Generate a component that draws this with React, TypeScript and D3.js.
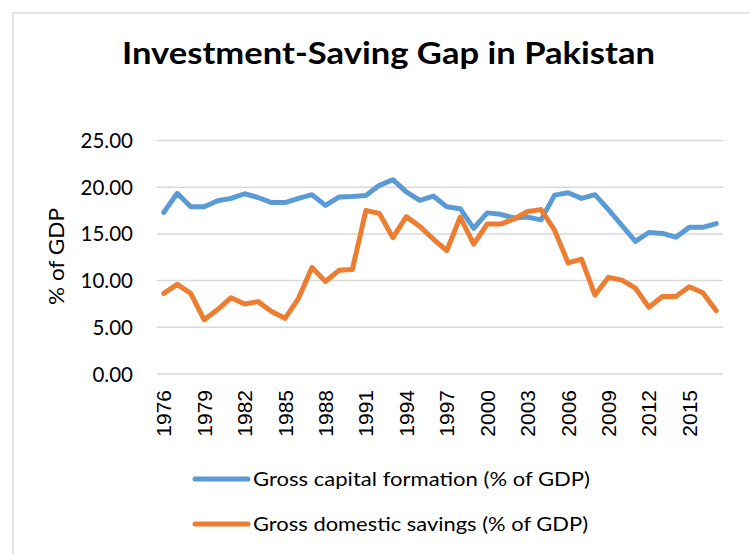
import React from "react";
import * as d3 from "d3";

const years = [1976,1977,1978,1979,1980,1981,1982,1983,1984,1985,1986,1987,1988,1989,1990,1991,1992,1993,1994,1995,1996,1997,1998,1999,2000,2001,2002,2003,2004,2005,2006,2007,2008,2009,2010,2011,2012,2013,2014,2015,2016,2017];
const capitalFormation = [17.3,19.35,17.9,17.9,18.55,18.8,19.3,18.9,18.35,18.35,18.8,19.2,18.05,18.95,19.0,19.1,20.2,20.8,19.5,18.6,19.05,17.9,17.7,15.6,17.25,17.1,16.7,16.8,16.5,19.15,19.4,18.8,19.2,17.6,15.9,14.2,15.15,15.05,14.65,15.7,15.7,16.1];
const domesticSavings = [8.64,9.6,8.64,5.8,6.9,8.17,7.5,7.75,6.7,5.96,8.1,11.4,9.9,11.1,11.2,17.5,17.2,14.6,16.85,15.8,14.45,13.2,16.8,13.9,16.05,16.05,16.6,17.4,17.6,15.4,11.9,12.3,8.45,10.35,10.05,9.2,7.14,8.3,8.3,9.35,8.7,6.78];
const xTickYears = [1976,1979,1982,1985,1988,1991,1994,1997,2000,2003,2006,2009,2012,2015];
const yTicks = [0,5,10,15,20,25];
const seriesNames = ["Gross capital formation (% of GDP)", "Gross domestic savings (% of GDP)"];
const colors = ["#5B9BD5", "#ED7D31"];

export default function App() {
  const W = 750, H = 554;
  const x = d3.scaleBand<number>().domain(years).range([157, 723]).padding(0);
  const y = d3.scaleLinear().domain([0, 25]).range([374, 140.5]);
  const cx = (yr: number) => (x(yr) as number) + x.bandwidth() / 2;
  const line = d3.line<number>().x((_, i) => cx(years[i])).y((d) => y(d));
  const series = [capitalFormation, domesticSavings];
  const font = "Lato, 'Open Sans', sans-serif";
  const legendLens = [337, 335];
  return (
    <svg width={W} height={H} style={{ position: "absolute", left: 0, top: 0, background: "#fff" }}>
      <rect x={13} y={13} width={W + 20} height={H + 20} fill="#fff" stroke="#d9d9d9" strokeWidth={1.5} />
      <text x={122} y={63.5} fontFamily={font} fontWeight={700} fontSize={30} fill="#000" textLength={533} lengthAdjust="spacingAndGlyphs">
        Investment-Saving Gap in Pakistan
      </text>
      {yTicks.map((t) => (
        <g key={t}>
          <line x1={157} x2={723} y1={y(t)} y2={y(t)} stroke="#d9d9d9" strokeWidth={1.5} />
          <text x={133} y={y(t) + 7.5} textAnchor="end" fontFamily={font} fontSize={20.5} fill="#000">
            {d3.format(".2f")(t)}
          </text>
        </g>
      ))}
      <text transform={`translate(64,256.5) rotate(-90)`} textAnchor="middle" fontFamily={font} fontSize={21} fill="#000" textLength={97} lengthAdjust="spacingAndGlyphs">
        % of GDP
      </text>
      {xTickYears.map((yr) => (
        <text key={yr} transform={`translate(${cx(yr) + 7.5},390) rotate(-90)`} textAnchor="end" fontFamily="'Liberation Sans', Arial, sans-serif" fontSize={21} fill="#000">
          {yr}
        </text>
      ))}
      {series.map((s, i) => (
        <path key={i} d={line(s) || ""} fill="none" stroke={colors[i]} strokeWidth={5} strokeLinejoin="round" strokeLinecap="round" />
      ))}
      {seriesNames.map((n, i) => (
        <g key={n}>
          <line x1={195} x2={248} y1={479 + i * 45} y2={479 + i * 45} stroke={colors[i]} strokeWidth={5} strokeLinecap="round" />
          <text x={253} y={486 + i * 45} fontFamily={font} fontSize={20} fill="#000" textLength={legendLens[i]} lengthAdjust="spacingAndGlyphs">{n}</text>
        </g>
      ))}
    </svg>
  );
}
